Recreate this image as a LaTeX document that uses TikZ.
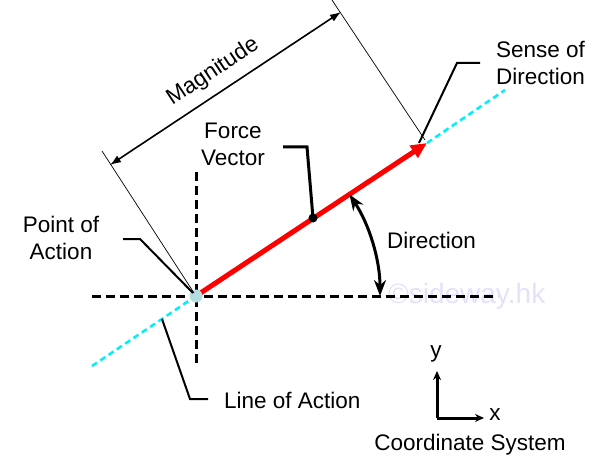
\documentclass[tikz,border=0pt]{standalone}
\usepackage{fontspec}
\setmainfont{Liberation Sans}
\usetikzlibrary{arrows.meta}
\definecolor{redvec}{RGB}{255,0,0}
\definecolor{cyanline}{RGB}{0,240,250}
\definecolor{poa}{RGB}{180,220,225}
\definecolor{wmark}{RGB}{228,226,250}
\tikzset{
  lbl/.style={inner sep=0pt, font=\fontsize{22.5}{27}\selectfont},
  refline/.style={line width=3pt, dash pattern=on 9pt off 5pt},
  loa/.style={cyanline, line width=2.5pt, dash pattern=on 6pt off 4pt},
  leader/.style={line width=2pt},
  extline/.style={line width=0.7pt},
}
\begin{document}
\begin{tikzpicture}[x=1pt,y=-1pt]
\useasboundingbox (0,0) rectangle (599,465);
% watermark
\node[inner sep=0pt, anchor=base west, text=wmark, font=\fontsize{28}{30}\selectfont] (wm) at (388,303) {©sideway.hk};
% coordinates
\coordinate (O) at (196,296);
\coordinate (T) at (427,143);
\coordinate (hl) at (92,296);
\coordinate (hr) at (498,296);
\coordinate (vt) at (196,172);
\coordinate (vb) at (196,365);
\coordinate (cl) at (92,366);
\coordinate (cr) at (505,90);
% reference axes
\draw[refline] (hl) -- (hr);
\draw[refline] (vt) -- (vb);
% line of action
\draw[loa] (cl) -- (O);
\draw[loa] (T) -- (cr);
% force vector
\draw[redvec, line width=5pt, -{Triangle[length=16pt,width=14pt]}] (O) -- (T);
\fill[poa] (O) circle (6.5);
% magnitude dimension
\coordinate (e1a) at (194,293);
\coordinate (e1b) at (102,151);
\coordinate (e2a) at (425,140);
\coordinate (e2b) at (332,0);
\draw[extline] (e1a) -- (e1b);
\draw[extline] (e2a) -- (e2b);
\coordinate (d1) at (110,165);
\coordinate (d2) at (341,12);
\draw[line width=1.6pt, {Latex[length=11pt,width=8pt]}-{Latex[length=11pt,width=8pt]}] (d1) -- (d2);
\node[lbl, rotate=33.5] (mag) at (213,72) {Magnitude};
% direction arc
\coordinate (a0) at (380,296);
\draw[line width=3pt, {Stealth[length=16pt,width=12pt]}-{Stealth[length=16pt,width=12pt]}] (a0) arc[start angle=0, end angle=-33.5, radius=184];
\node[lbl, anchor=west] (dir) at (387,240) {Direction};
% force vector label
\node[lbl, align=center] (fv) at (233,144) {Force\\Vector};
\coordinate (f1) at (283,147);
\coordinate (f2) at (307,147);
\coordinate (fd) at (313,218);
\draw[line width=3pt] (f1) -- (f2) -- (fd);
\fill (fd) circle (4.5);
% sense of direction
\node[lbl, align=left, anchor=west] (sd) at (496,63) {Sense of\\Direction};
\coordinate (s1) at (480,63);
\coordinate (s2) at (457,63);
\coordinate (s3) at (419,143);
\draw[leader] (s1) -- (s2) -- (s3);
% point of action
\node[lbl, align=center] (pa) at (61,238) {Point of\\Action};
\coordinate (p1) at (123,239);
\coordinate (p2) at (140,239);
\coordinate (p3) at (193,293);
\draw[leader] (p1) -- (p2) -- (p3);
% line of action
\node[lbl, anchor=west] (la) at (224,400) {Line of Action};
\coordinate (l1) at (162,319);
\coordinate (l2) at (190,399);
\coordinate (l3) at (208,399);
\draw[leader] (l1) -- (l2) -- (l3);
% coordinate system
\coordinate (c0) at (437,418);
\coordinate (cy) at (437,371);
\coordinate (cx) at (484,418);
\draw[line width=3pt, {Stealth[length=9pt,width=8pt]}-] (cy) -- (c0);
\draw[line width=3pt, -{Stealth[length=9pt,width=8pt]}] (c0) -- (cx);
\node[lbl] (ylab) at (436,354) {y};
\node[lbl] (xlab) at (495,415) {x};
\node[lbl] (cs) at (470,445) {Coordinate System};
\end{tikzpicture}
\end{document}
